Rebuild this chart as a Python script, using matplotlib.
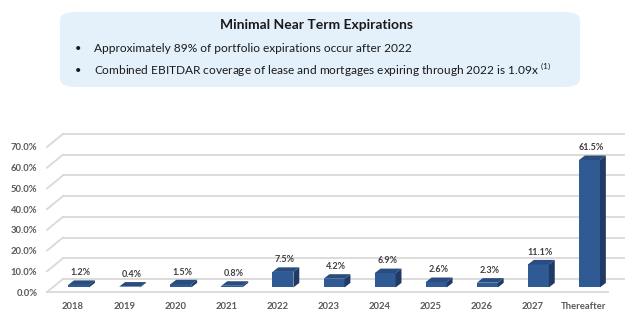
import matplotlib
matplotlib.use("Agg")
import matplotlib.pyplot as plt
from matplotlib.patches import Polygon, FancyBboxPatch

categories = ["2018", "2019", "2020", "2021", "2022", "2023", "2024", "2025", "2026", "2027", "Thereafter"]
values = [1.2, 0.4, 1.5, 0.8, 7.5, 4.2, 6.9, 2.6, 2.3, 11.1, 61.5]
value_labels = ["1.2%", "0.4%", "1.5%", "0.8%", "7.5%", "4.2%", "6.9%", "2.6%", "2.3%", "11.1%", "61.5%"]
yticks = [0, 10, 20, 30, 40, 50, 60, 70]
ytick_labels = ["0.0%", "10.0%", "20.0%", "30.0%", "40.0%", "50.0%", "60.0%", "70.0%"]
title = "Minimal Near Term Expirations"
bullets = ["Approximately 89% of portfolio expirations occur after 2022",
           "Combined EBITDAR coverage of lease and mortgages expiring through 2022 is 1.09x $^{(1)}$"]

plt.rcParams['font.family'] = ['Lato', 'DejaVu Sans']
plt.rcParams['mathtext.fontset'] = 'custom'
plt.rcParams['mathtext.rm'] = 'Lato'

W, H = 640, 333
fig = plt.figure(figsize=(W / 100, H / 100), dpi=100)

# Text box
box = FancyBboxPatch((60 / W, 1 - 87 / H), 520 / W, 75 / H,
                     boxstyle="round,pad=0,rounding_size=0.025",
                     transform=fig.transFigure, facecolor="#E4F1FB", edgecolor="none")
fig.patches.append(box)
fig.text(317 / W, 1 - 25 / H, title, ha="center", va="center", fontsize=10,
         fontweight="bold", color="#1a1a1a")
for k, b in enumerate(bullets):
    yy = 1 - (48 + 22 * k) / H
    fig.text(78 / W, yy, "•", ha="center", va="center", fontsize=8, color="#1a1a1a")
    fig.text(94 / W, yy, b, ha="left", va="center", fontsize=8.6, color="#1a1a1a")

# Chart axes: front plane
x0, x1 = -0.51, 10.47
ax = fig.add_axes([47 / W, 41 / H, 561 / W, 145 / H])
ax.set_xlim(x0, x1)
ax.set_ylim(0, 70)
for s in ax.spines.values():
    s.set_visible(False)

# depth in data units
wdx, wdy = 0.313, 6.3     # back wall
bfx, bfy = 0.108, 2.2     # bar front face offset
bdx, bdy = 0.115, 2.2     # bar depth
gc = "#D9D9D9"

for t in yticks:
    ax.plot([x0 + wdx, x1 + wdx], [t + wdy, t + wdy], color=gc, lw=1.3, clip_on=False, zorder=1)
    ax.plot([x0, x0 + wdx], [t, t + wdy], color=gc, lw=1.3, clip_on=False, zorder=1)
ax.plot([x0, x1], [0, 0], color=gc, lw=1.3, clip_on=False, zorder=1)

w = 0.41
xs = list(range(len(categories)))
front_c, top_c, side_c = "#2F5A94", "#2A4D80", "#1F3A64"
for i, v in zip(xs, values):
    l = i - w / 2 + bfx
    r = i + w / 2 + bfx
    b = bfy
    t = bfy + v
    ax.bar(i + bfx, v, width=w, bottom=bfy, color=front_c, edgecolor="none", zorder=3)
    ax.add_patch(Polygon([(l, t), (r, t), (r + bdx, t + bdy), (l + bdx, t + bdy)],
                         closed=True, facecolor=top_c, edgecolor="none", zorder=3, clip_on=False))
    ax.add_patch(Polygon([(r, b), (r + bdx, b + bdy), (r + bdx, t + bdy), (r, t)],
                         closed=True, facecolor=side_c, edgecolor="none", zorder=3, clip_on=False))

for i, v, lab in zip(xs, values, value_labels):
    ax.annotate(lab, (i + bfx + 0.04, v + bfy), xytext=(0, 8.8), textcoords="offset points",
                ha="center", va="center", fontsize=6.5, fontweight="bold", color="#404040",
                annotation_clip=False)

ax.set_xticks(xs)
ax.set_xticklabels(categories)
ax.set_yticks(yticks)
ax.set_yticklabels(ytick_labels)
ax.tick_params(axis="both", length=0, labelsize=6.8, labelcolor="#595959")
ax.tick_params(axis="x", pad=7)
ax.tick_params(axis="y", pad=7)
for lbl in ax.get_xticklabels() + ax.get_yticklabels():
    lbl.set_fontweight("bold")

fig.savefig("out.png", dpi=100)
